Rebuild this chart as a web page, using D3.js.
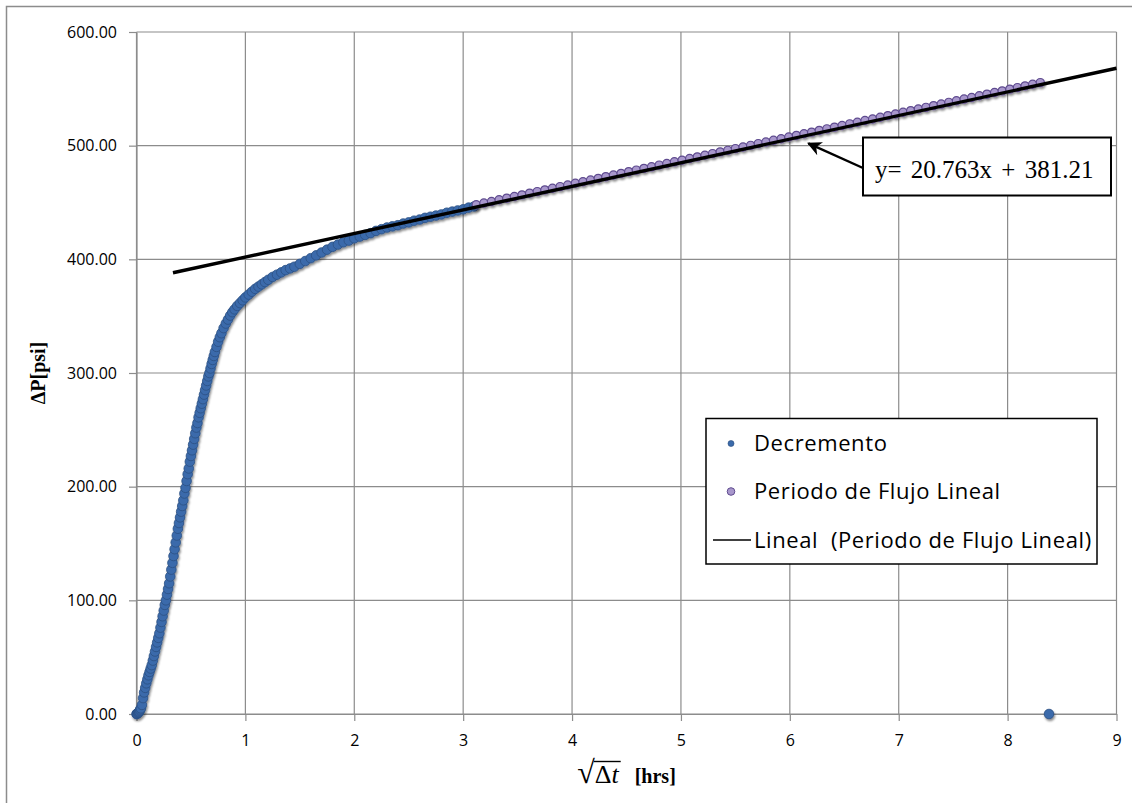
<!DOCTYPE html>
<html>
<head>
<meta charset="utf-8">
<script src="https://cdn.jsdelivr.net/npm/d3@7"></script>
<style>
  html, body { margin: 0; padding: 0; background: #fff; }
  svg { display: block; }
</style>
</head>
<body>
<div id="chart"></div>
<script>
// Canvas size
const width = 1132;
const height = 803;

// Series "Decremento": [sqrt(dt), dP]
const decremento = [
    [0, 0], [0.005, 0.2], [0.01, 0.5], [0.015, 1], [0.02, 1.5], [0.025, 2.2], [0.03, 3], [0.035, 4],
    [0.04, 5], [0.05, 8], [0.06, 14], [0.07, 19], [0.08, 23], [0.09, 27], [0.10, 30.5], [0.11, 34],
    [0.12, 37], [0.13, 40], [0.14, 43], [0.15, 47], [0.16, 51], [0.17, 55], [0.18, 59], [0.19, 63],
    [0.20, 67], [0.21, 71], [0.22, 76], [0.23, 81], [0.24, 86], [0.25, 91], [0.26, 96], [0.27, 100],
    [0.28, 105], [0.29, 110], [0.30, 115], [0.31, 121], [0.32, 127], [0.33, 133], [0.34, 139], [0.35, 145],
    [0.36, 151], [0.37, 157], [0.38, 163], [0.39, 168], [0.40, 173], [0.41, 178], [0.42, 183], [0.43, 188],
    [0.44, 194], [0.45, 199], [0.46, 205], [0.47, 211], [0.48, 216], [0.49, 222], [0.50, 227], [0.51, 232],
    [0.52, 237], [0.53, 242], [0.54, 247], [0.55, 252], [0.56, 256], [0.57, 261], [0.58, 265], [0.59, 269],
    [0.60, 273], [0.61, 277], [0.62, 281], [0.63, 285], [0.64, 289], [0.65, 293], [0.66, 297], [0.67, 300],
    [0.68, 304], [0.69, 308], [0.70, 311.5], [0.71, 315], [0.72, 318.5], [0.735, 323], [0.75, 327.5], [0.765, 331.5],
    [0.78, 335], [0.80, 339.5], [0.82, 343.5], [0.84, 347], [0.86, 350.5], [0.88, 353.5], [0.90, 356], [0.925, 359],
    [0.95, 361.5], [0.975, 364], [1.00, 366.5], [1.03, 369], [1.06, 371.5], [1.09, 374], [1.12, 376], [1.15, 378],
    [1.18, 380], [1.21, 382], [1.25, 384.5], [1.29, 386.5], [1.33, 388.5], [1.37, 390.5], [1.41, 392], [1.45, 393.5],
    [1.50, 396], [1.55, 398.5], [1.60, 401], [1.65, 403.5], [1.70, 406], [1.75, 408.5], [1.80, 411], [1.85, 413],
    [1.90, 415], [1.95, 416.5], [2.00, 418.5], [2.05, 420], [2.10, 421.5], [2.15, 423], [2.20, 425], [2.25, 426.5],
    [2.30, 428], [2.35, 429], [2.40, 430], [2.45, 431.5], [2.50, 432.5], [2.55, 434], [2.60, 435], [2.65, 436.5],
    [2.70, 437.5], [2.75, 438.5], [2.80, 439.5], [2.85, 441], [2.90, 442], [2.95, 443], [3.00, 444], [3.05, 445.5],
    [3.10, 446.5], [8.38, 0]
];

// Series "Periodo de Flujo Lineal"
const linealX = [
    3.12, 3.19, 3.26, 3.33, 3.40, 3.47, 3.54, 3.61, 3.68, 3.75, 3.82, 3.89, 3.96, 4.03, 4.10, 4.17, 4.24, 4.31, 4.38,
    4.45, 4.52, 4.59, 4.66, 4.73, 4.80, 4.87, 4.94, 5.01, 5.08, 5.15, 5.22, 5.29, 5.36, 5.43, 5.50, 5.57, 5.64, 5.71,
    5.78, 5.85, 5.92, 5.99, 6.06, 6.13, 6.20, 6.27, 6.34, 6.41, 6.48, 6.55, 6.62, 6.69, 6.76, 6.83, 6.90, 6.97, 7.04,
    7.11, 7.18, 7.25, 7.32, 7.39, 7.46, 7.53, 7.60, 7.67, 7.74, 7.81, 7.88, 7.95, 8.02, 8.09, 8.16, 8.23, 8.30
];
const linealY = [
    448.0, 449.5, 450.9, 452.4, 453.8, 455.3, 456.7, 458.2, 459.6, 461.1, 462.5, 464.0, 465.4, 466.9, 468.3, 469.8, 471.2, 472.7, 474.2,
    475.6, 477.1, 478.5, 480.0, 481.4, 482.9, 484.3, 485.8, 487.2, 488.7, 490.1, 491.6, 493.0, 494.5, 495.9, 497.4, 498.8, 500.3, 501.8,
    503.2, 504.7, 506.1, 507.6, 509.0, 510.5, 511.9, 513.4, 514.8, 516.3, 517.7, 519.2, 520.6, 522.1, 523.5, 525.0, 526.4, 527.9, 529.4,
    530.8, 532.3, 533.7, 535.2, 536.6, 538.1, 539.5, 541.0, 542.4, 543.9, 545.3, 546.8, 548.2, 549.7, 551.1, 552.6, 554.0, 555.5
];

// Linear trend line of the second series
const trendSlope = 20.763;
const trendIntercept = 381.21;
const trendRange = [0.335, 9];
const trendLabel = "y= 20.763x + 381.21";
const arrowTip = [6.17, 502];   // point the label arrow touches

// Axis ticks
const xTicks = [0, 1, 2, 3, 4, 5, 6, 7, 8, 9];
const yTicks = [0, 100, 200, 300, 400, 500, 600];

const legendItems = ["Decremento", "Periodo de Flujo Lineal", "Lineal  (Periodo de Flujo Lineal)"];

const sans = "'Open Sans', 'DejaVu Sans', sans-serif";
const serif = "'Liberation Serif', 'DejaVu Serif', serif";
const gridColor = "#8c8c8c";

function main() {
    const svg = d3.select("#chart").append("svg")
        .attr("width", width)
        .attr("height", height);

    const defs = svg.append("defs");
    defs.append("filter")
        .attr("id", "shadow")
        .attr("x", "-20%").attr("y", "-20%").attr("width", "140%").attr("height", "140%")
        .append("feDropShadow")
        .attr("dx", 1).attr("dy", 2).attr("stdDeviation", 1.3)
        .attr("flood-color", "#000").attr("flood-opacity", 0.45);
    defs.append("marker")
        .attr("id", "arrow")
        .attr("viewBox", "0 0 10 10")
        .attr("refX", 9).attr("refY", 5)
        .attr("markerWidth", 6).attr("markerHeight", 6)
        .attr("orient", "auto-start-reverse")
        .attr("markerUnits", "strokeWidth")
        .append("path")
        .attr("d", "M0,0 L10,5 L0,10 L3,5 Z")
        .attr("fill", "#000");

    // Outer frame (right and bottom edges fall off the canvas)
    svg.append("rect")
        .attr("x", 6.5).attr("y", 6.5)
        .attr("width", width + 20).attr("height", height + 20)
        .attr("fill", "none")
        .attr("stroke", gridColor)
        .attr("stroke-width", 1.5);

    const x = d3.scaleLinear().domain([0, 9]).range([136.5, 1116.5]);
    const y = d3.scaleLinear().domain([0, 600]).range([714, 32]);

    // Gridlines
    svg.append("g")
        .selectAll("line")
        .data(yTicks)
        .join("line")
        .attr("x1", x(0)).attr("x2", x(9))
        .attr("y1", d => y(d)).attr("y2", d => y(d))
        .attr("stroke", gridColor).attr("stroke-width", 1.2);
    svg.append("g")
        .selectAll("line")
        .data(xTicks)
        .join("line")
        .attr("x1", d => x(d)).attr("x2", d => x(d))
        .attr("y1", y(0)).attr("y2", y(600))
        .attr("stroke", gridColor).attr("stroke-width", 1.2);

    // Axes
    const yAxis = svg.append("g")
        .attr("transform", `translate(${x(0)},0)`)
        .call(d3.axisLeft(y).tickValues(yTicks).tickFormat(d3.format(".2f"))
            .tickSizeInner(7.5).tickSizeOuter(0).tickPadding(12));
    const xAxis = svg.append("g")
        .attr("transform", `translate(0,${y(0)})`)
        .call(d3.axisBottom(x).tickValues(xTicks).tickFormat(d3.format("d"))
            .tickSizeInner(7).tickSizeOuter(0).tickPadding(14));
    [xAxis, yAxis].forEach(a => {
        a.select(".domain").attr("stroke", gridColor).attr("stroke-width", 1.2);
        a.selectAll(".tick line").attr("stroke", gridColor).attr("stroke-width", 1.2);
        a.selectAll(".tick text")
            .attr("fill", "#000")
            .attr("font-family", sans)
            .attr("font-size", 16);
    });

    // Decremento points
    svg.append("g")
        .attr("filter", "url(#shadow)")
        .selectAll("circle")
        .data(decremento)
        .join("circle")
        .attr("cx", d => x(d[0]))
        .attr("cy", d => y(d[1]))
        .attr("r", 4.8)
        .attr("fill", "#3b6bab")
        .attr("stroke", "#2b4f83")
        .attr("stroke-width", 0.8);

    // Periodo de Flujo Lineal points
    svg.append("g")
        .attr("filter", "url(#shadow)")
        .selectAll("circle")
        .data(linealX)
        .join("circle")
        .attr("cx", d => x(d))
        .attr("cy", (d, i) => y(linealY[i]))
        .attr("r", 4.1)
        .attr("fill", "#a897cc")
        .attr("stroke", "#5f4b8f")
        .attr("stroke-width", 1.2);

    // Trend line
    svg.append("line")
        .attr("x1", x(trendRange[0]))
        .attr("y1", y(trendIntercept + trendSlope * trendRange[0]))
        .attr("x2", x(trendRange[1]))
        .attr("y2", y(trendIntercept + trendSlope * trendRange[1]))
        .attr("stroke", "#000")
        .attr("stroke-width", 3.4);

    // Equation label with arrow
    const box = { x: 863, y: 137.5, w: 248, h: 58 };
    svg.append("line")
        .attr("x1", box.x).attr("y1", 168)
        .attr("x2", x(arrowTip[0])).attr("y2", y(arrowTip[1]))
        .attr("stroke", "#000").attr("stroke-width", 2.4)
        .attr("marker-end", "url(#arrow)");
    svg.append("rect")
        .attr("x", box.x).attr("y", box.y)
        .attr("width", box.w).attr("height", box.h)
        .attr("fill", "#fff")
        .attr("stroke", "#000").attr("stroke-width", 2);
    svg.append("text")
        .attr("x", box.x + 12).attr("y", 178)
        .attr("font-family", serif)
        .attr("font-size", 25)
        .attr("word-spacing", 3)
        .text(trendLabel);

    // Legend
    const lg = svg.append("g");
    lg.append("rect")
        .attr("x", 706).attr("y", 418.5)
        .attr("width", 391).attr("height", 145.5)
        .attr("fill", "#fff")
        .attr("stroke", "#000").attr("stroke-width", 1.5);
    const rowY = [443.5, 491.5, 540];
    lg.append("circle").attr("cx", 731).attr("cy", rowY[0]).attr("r", 3)
        .attr("fill", "#3b6bab").attr("stroke", "#27497a").attr("stroke-width", 0.6);
    lg.append("circle").attr("cx", 731).attr("cy", rowY[1]).attr("r", 3.8)
        .attr("fill", "#a897cc").attr("stroke", "#5f4b8f").attr("stroke-width", 1);
    lg.append("line").attr("x1", 713).attr("x2", 751).attr("y1", rowY[2]).attr("y2", rowY[2])
        .attr("stroke", "#000").attr("stroke-width", 1.5);
    lg.selectAll("text")
        .data(legendItems)
        .join("text")
        .attr("x", 754)
        .attr("y", (d, i) => rowY[i])
        .attr("dy", "0.36em")
        .attr("font-family", sans)
        .attr("font-size", 22)
        .attr("letter-spacing", 0.6)
        .attr("xml:space", "preserve")
        .style("white-space", "pre")
        .text(d => d);

    // Y axis title
    svg.append("text")
        .attr("transform", `translate(45,${(y(0) + y(600)) / 2}) rotate(-90)`)
        .attr("text-anchor", "middle")
        .attr("font-family", serif)
        .attr("font-weight", "bold")
        .attr("font-size", 20)
        .text("ΔP[psi]");

    // X axis title: sqrt(Δt) [hrs]
    const xl = svg.append("g");
    const rad = xl.append("text")
        .attr("font-family", serif).attr("font-size", 32)
        .text("√");
    const w1 = rad.node().getComputedTextLength();
    const dt = xl.append("text")
        .attr("x", w1)
        .attr("font-family", serif).attr("font-size", 26);
    dt.append("tspan").text("Δ");
    dt.append("tspan").attr("font-style", "italic").text("t");
    const w2 = dt.node().getComputedTextLength();
    xl.append("line")
        .attr("x1", w1 - 1).attr("x2", w1 + w2 + 2)
        .attr("y1", -21.5).attr("y2", -21.5)
        .attr("stroke", "#000").attr("stroke-width", 1.4);
    const hrs = xl.append("text")
        .attr("x", w1 + w2 + 16)
        .attr("font-family", serif).attr("font-weight", "bold").attr("font-size", 20)
        .text("[hrs]");
    const total = w1 + w2 + 16 + hrs.node().getComputedTextLength();
    xl.attr("transform", `translate(${(x(0) + x(9)) / 2 - total / 2},783)`);
}

main();
</script>
</body>
</html>
